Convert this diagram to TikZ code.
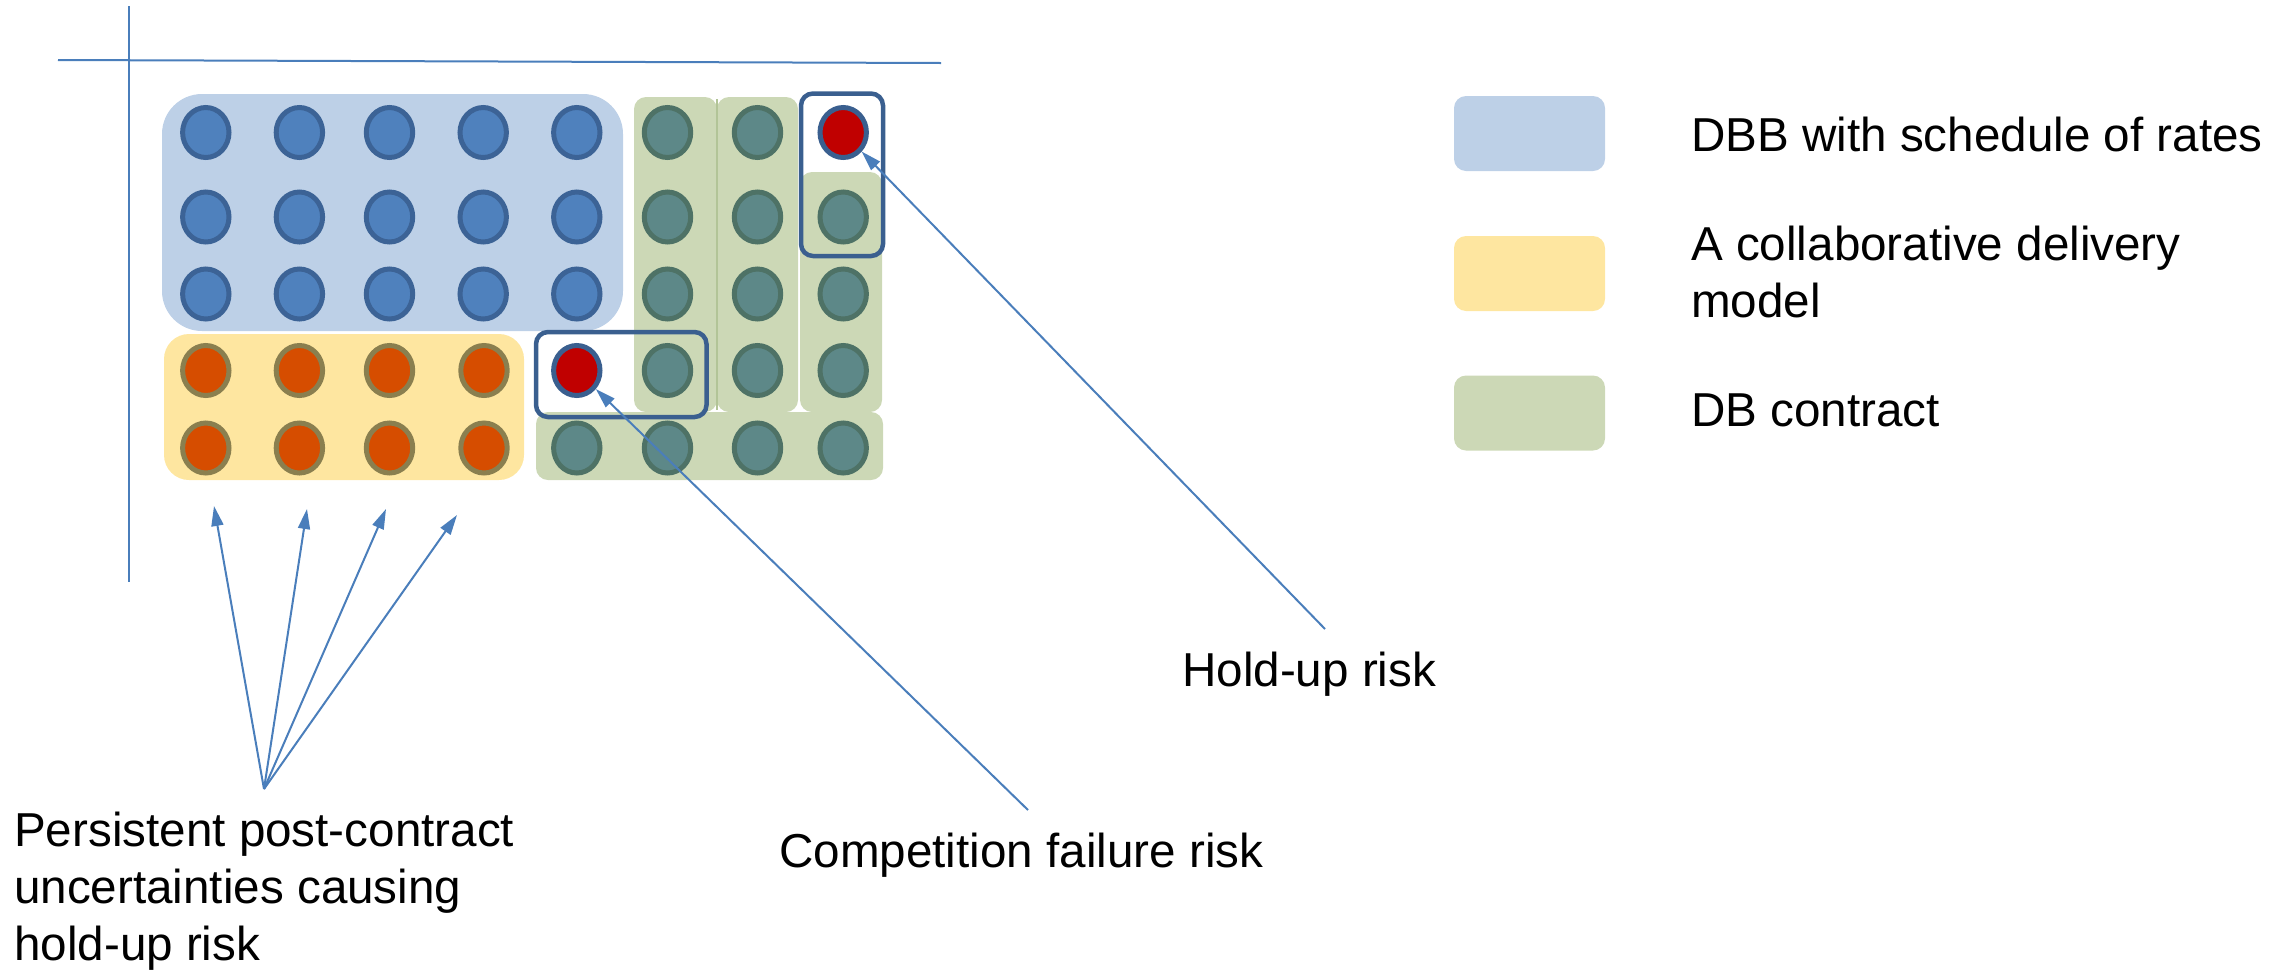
\documentclass[tikz,border=0pt]{standalone}
\usepackage{fontspec}
\setmainfont{Liberation Sans}
\usetikzlibrary{shapes.geometric,arrows.meta}
\definecolor{bgblue}{HTML}{BDD0E7}
\definecolor{bgyellow}{HTML}{FEE6A0}
\definecolor{bggreen}{HTML}{CCD8B6}
\definecolor{seamgreen}{HTML}{B2C497}
\definecolor{dotblue}{HTML}{4F81BD}
\definecolor{dotblueline}{HTML}{3C6396}
\definecolor{dotgreen}{HTML}{5D8888}
\definecolor{dotgreenline}{HTML}{4E7266}
\definecolor{dotorange}{HTML}{D64D00}
\definecolor{dotorangeline}{HTML}{8A7F4F}
\definecolor{dotred}{HTML}{C00000}
\definecolor{frameblue}{HTML}{3A5F8F}
\definecolor{arrowblue}{HTML}{4A7EBB}
\begin{document}
\begin{tikzpicture}[x=1pt,y=-1pt,
  dot/.style={ellipse, minimum width=46.4pt, minimum height=50pt, line width=5pt, inner sep=0pt},
  bdot/.style={dot, fill=dotblue, draw=dotblueline},
  gdot/.style={dot, fill=dotgreen, draw=dotgreenline},
  odot/.style={dot, fill=dotorange, draw=dotorangeline},
  rdot/.style={dot, fill=dotred, draw=frameblue},
  frame/.style={draw=frameblue, line width=4.5pt, rounded corners=12pt},
  legbox/.style={rectangle, rounded corners=12pt, minimum width=151pt, minimum height=75pt, inner sep=0pt},
  lbl/.style={font=\fontsize{47.6}{57}\selectfont, anchor=base west, inner sep=0pt},
  pointer/.style={draw=arrowblue, line width=2pt, -{Triangle[length=20pt,width=12pt]}},
  axis/.style={draw=arrowblue, line width=2pt}]
\useasboundingbox (0,0) rectangle (2295,970);
% axes
\coordinate (v1) at (128.7,6);
\coordinate (v2) at (128.7,582);
\coordinate (h1) at (58,60);
\coordinate (h2) at (941,63);
\draw[axis] (v1) -- (v2);
\draw[axis] (h1) -- (h2);
% backgrounds
\fill[bgblue, rounded corners=40pt] (162,94) rectangle (623,331);
\fill[bgyellow, rounded corners=25pt] (164,334) rectangle (524,480);
\fill[bggreen, rounded corners=12pt] (634,97) rectangle (717,412);
\fill[bggreen, rounded corners=12pt] (717,97) rectangle (798,412);
\draw[seamgreen, line width=2pt] (716.5,99) -- (716.5,410);
\fill[bggreen, rounded corners=12pt] (800,172) rectangle (882,412);
\fill[bggreen, rounded corners=12pt] (536,412) rectangle (883,480);
% highlight frames
\draw[frame] (536,332) rectangle (706.5,417);
\draw[frame] (801,93.5) rectangle (883,256);
% dots
\foreach \r/\y in {1/132.5,2/217,3/294}{
  \foreach \c/\x in {1/205.8,2/299.4,3/389.5,4/483.2,5/576.8}{
    \node[bdot] (b\r\c) at (\x,\y) {};
  }
}
\foreach \r/\y in {4/370.5,5/448}{
  \foreach \c/\x in {1/205.8,2/299.4,3/389.5,4/484}{
    \node[odot] (o\r\c) at (\x,\y) {};
  }
}
\foreach \r/\y in {1/132.5,2/217,3/294,4/370.5,5/448}{
  \node[gdot] (g\r6) at (667.5,\y) {};
  \node[gdot] (g\r7) at (757.5,\y) {};
}
\foreach \r/\y in {2/217,3/294,4/370.5,5/448}{
  \node[gdot] (g\r8) at (843.2,\y) {};
}
\node[gdot] (g55) at (576.8,448) {};
\node[rdot] (red1) at (576.8,370.5) {};
\node[rdot] (red2) at (843.2,132.5) {};
% legend
\node[legbox, fill=bgblue] (k1) at (1529.5,133.5) {};
\node[legbox, fill=bgyellow] (k2) at (1529.5,273.5) {};
\node[legbox, fill=bggreen] (k3) at (1529.5,413) {};
\node[lbl] (t1) at (1691,151) {DBB with schedule of rates};
\node[lbl] (t2a) at (1691,260) {A collaborative delivery};
\node[lbl] (t2b) at (1691,317.3) {model};
\node[lbl] (t3) at (1691,426.7) {DB contract};
% annotations
\node[lbl] (hold) at (1182,686) {Hold-up risk};
\node[lbl] (comp) at (779,867) {Competition failure risk};
\node[lbl] (pers1) at (14,846.7) {Persistent post-contract};
\node[lbl] (pers2) at (14,903.3) {uncertainties causing};
\node[lbl] (pers3) at (14,960) {hold-up risk};
\coordinate (holdsrc) at (1325,629);
\coordinate (compsrc) at (1028,810);
\coordinate (perssrc) at (264,789);
\coordinate (u1) at (214,506);
\coordinate (u2) at (307,509);
\coordinate (u3) at (386,509);
\coordinate (u4) at (457,515);
\draw[pointer] (holdsrc) -- (red2);
\draw[pointer] (compsrc) -- (red1);
\foreach \k in {1,2,3,4}{
  \draw[pointer] (perssrc) -- (u\k);
}
\end{tikzpicture}
\end{document}
